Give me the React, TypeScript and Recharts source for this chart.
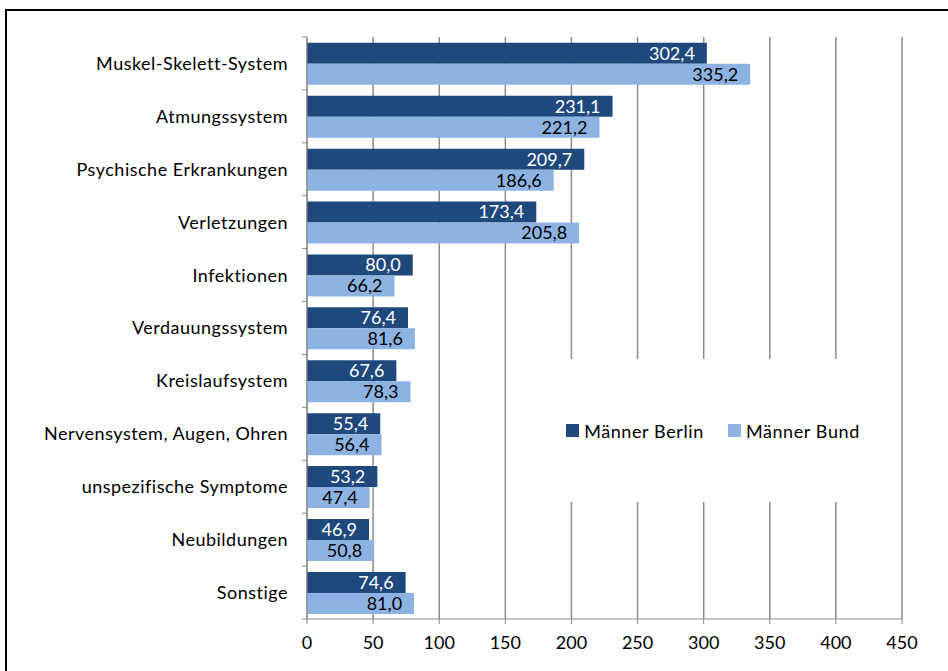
import { BarChart, Bar, XAxis, YAxis, CartesianGrid, LabelList } from 'recharts'

// Arbeitsunfähigkeitstage je Diagnosegruppe, Männer Berlin vs. Bund
const CATEGORIES = [
  'Muskel-Skelett-System',
  'Atmungssystem',
  'Psychische Erkrankungen',
  'Verletzungen',
  'Infektionen',
  'Verdauungssystem',
  'Kreislaufsystem',
  'Nervensystem, Augen, Ohren',
  'unspezifische Symptome',
  'Neubildungen',
  'Sonstige',
]
const BERLIN = [302.4, 231.1, 209.7, 173.4, 80.0, 76.4, 67.6, 55.4, 53.2, 46.9, 74.6]
const BUND = [335.2, 221.2, 186.6, 205.8, 66.2, 81.6, 78.3, 56.4, 47.4, 50.8, 81.0]
const X_TICKS = [0, 50, 100, 150, 200, 250, 300, 350, 400, 450]

const SERIES = [
  { key: 'berlin', name: 'Männer Berlin', color: '#1f497d', labelColor: '#ffffff' },
  { key: 'bund', name: 'Männer Bund', color: '#8db3e2', labelColor: '#000000' },
]

const data = CATEGORIES.map((name, i) => ({ name, berlin: BERLIN[i], bund: BUND[i] }))

const W = 948
const H = 671
const TOP = 37
const BOTTOM = 619
const AXIS_X = 307
const RIGHT = 902
const BAND = (BOTTOM - TOP) / CATEGORIES.length
const FONT = 'Lato, "Open Sans", sans-serif'
const GRID = '#8c8c8c'

const fmt = (v: any) => Number(v).toFixed(1).replace('.', ',')

// Kategorie-Beschriftung plus Teilstriche an den Kategoriegrenzen (wie Excel)
function CategoryTick(props: any) {
  const { y, payload, index } = props
  return (
    <g>
      <text
        x={AXIS_X - 19}
        y={y}
        dy="0.36em"
        textAnchor="end"
        fontSize={18}
        fill="#000"
        fontFamily={FONT}
        style={{ letterSpacing: 0.5 }}
      >
        {payload.value}
      </text>
      <line x1={AXIS_X - 5} x2={AXIS_X} y1={y - BAND / 2} y2={y - BAND / 2} stroke={GRID} />
      {index === CATEGORIES.length - 1 && (
        <line x1={AXIS_X - 5} x2={AXIS_X} y1={y + BAND / 2} y2={y + BAND / 2} stroke={GRID} />
      )}
    </g>
  )
}

export default function App() {
  return (
    <div style={{ position: 'fixed', left: 0, top: 0, width: W, height: H, overflow: 'hidden', background: '#fff' }}>
      <BarChart
        width={W}
        height={H}
        data={data}
        layout="vertical"
        margin={{ top: TOP, right: W - RIGHT, bottom: H - BOTTOM - 30, left: AXIS_X - 300 }}
        barCategoryGap="11%"
        barGap={0}
      >
        <CartesianGrid horizontal={false} stroke={GRID} strokeWidth={1.5} />
        <XAxis
          type="number"
          domain={[0, 450]}
          ticks={X_TICKS}
          height={30}
          tick={{ fontSize: 18, fill: '#000', fontFamily: FONT }}
          tickSize={5}
          tickMargin={12}
          stroke={GRID}
          interval={0}
        />
        <YAxis
          type="category"
          dataKey="name"
          width={300}
          tick={<CategoryTick />}
          tickLine={false}
          stroke={GRID}
          interval={0}
        />
        {SERIES.map(s => (
          <Bar key={s.key} dataKey={s.key} name={s.name} fill={s.color} isAnimationActive={false}>
            <LabelList
              dataKey={s.key}
              position="insideRight"
              offset={12}
              formatter={fmt}
              fill={s.labelColor}
              fontSize={18}
              fontFamily={FONT}
            />
          </Bar>
        ))}
      </BarChart>
      {/* Legende mit weißem Hintergrund über dem Gitter */}
      <div
        style={{
          position: 'absolute',
          left: 540,
          top: 359,
          width: 346,
          height: 143,
          background: '#fff',
          display: 'flex',
          alignItems: 'center',
          justifyContent: 'center',
          gap: 24,
          fontFamily: FONT,
          fontSize: 18,
          letterSpacing: 0.6,
          color: '#000',
        }}
      >
        {SERIES.map(s => (
          <div key={s.key} style={{ display: 'flex', alignItems: 'center', gap: 5 }}>
            <span style={{ display: 'inline-block', width: 13, height: 13, background: s.color }} />
            <span>{s.name}</span>
          </div>
        ))}
      </div>
      <div
        style={{
          position: 'absolute',
          left: 5,
          top: 9,
          width: 2000,
          height: 2000,
          border: '2px solid #000',
          pointerEvents: 'none',
        }}
      />
    </div>
  )
}
